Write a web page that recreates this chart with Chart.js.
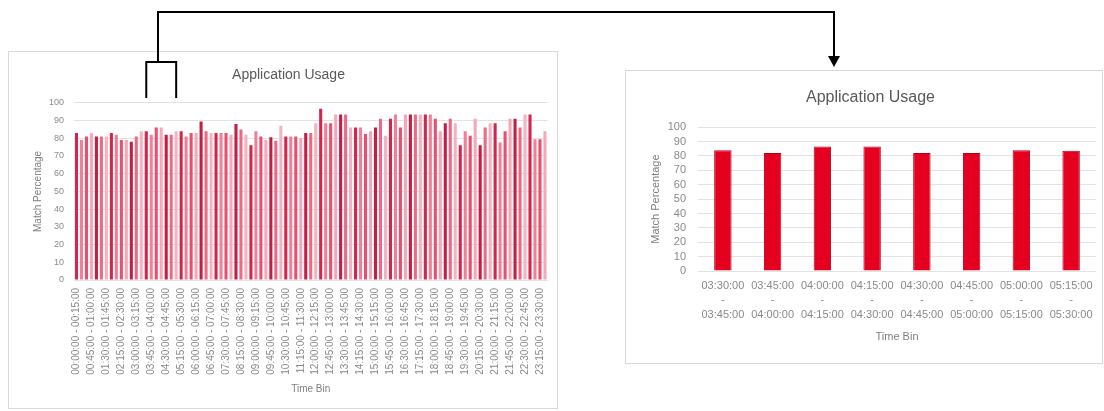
<!DOCTYPE html>
<html lang="en">
<head>
<meta charset="UTF-8">
<title>Application Usage</title>
<script src="https://cdn.jsdelivr.net/npm/chart.js@4.4.0/dist/chart.umd.min.js"></script>
<style>
  body{margin:0;background:#fff;width:1104px;height:411px;overflow:hidden;position:relative;}
  .box{position:absolute;border:1px solid #d9d9d9;background:#fff;}
  #leftBox{left:8px;top:51px;width:548px;height:356px;}
  #rightBox{left:625px;top:70px;width:476px;height:292px;}
  #links{position:absolute;left:0;top:0;pointer-events:none;}
</style>
</head>
<body>
<div class="box" id="leftBox"><canvas id="dayChart" width="548" height="356"></canvas></div>
<div class="box" id="rightBox"><canvas id="zoomChart" width="476" height="292"></canvas></div>
<canvas id="links" width="1104" height="411"></canvas>

<script>
// 15-minute bins for the whole day (95 bins shown in the original)
const binCount = 95;
const dayValues = [
  83,79,81,83,81,81,81,83,82,79,79,78,81,84,84,82,86,86,82,82,
  84,84,81,83,83,89.5,84,83,83,83,83,82,88,85,82,76,84,81,79,80.5,
  78.6,87,81,81,81,80,83,83,88.5,96.7,88.5,88.5,93.4,93.4,93.4,86,86,86,82.4,84,
  86,91,81.4,91,93.4,86,93.4,93.4,93.4,93.4,93.4,93.4,91,84,88.5,91,88.5,76,84,81.4,
  91,76,86,88.5,88.5,77.6,84,91,91,86,93.4,93.4,79.5,79.5,84
];

// zoomed window 03:30 - 05:30
const zoomLabels = [
  ['03:30:00','-','03:45:00'],['03:45:00','-','04:00:00'],['04:00:00','-','04:15:00'],['04:15:00','-','04:30:00'],
  ['04:30:00','-','04:45:00'],['04:45:00','-','05:00:00'],['05:00:00','-','05:15:00'],['05:15:00','-','05:30:00']
];
const zoomValues = [84,82,86.5,86.5,82,82,84,83.7];

const barShades = ['#d3264c','#f08098','#e8506f','#f6a8b8','#c41e44','#ec6a86','#f4b3c0'];

function hhmmss(min){
  const h = String(Math.floor(min/60)).padStart(2,'0');
  const m = String(min%60).padStart(2,'0');
  return h + ':' + m + ':00';
}
const dayLabels = [];
for(let i=0;i<binCount;i++){
  dayLabels.push(hhmmss(i*15) + ' - ' + hhmmss(i*15+15));
}

Chart.defaults.font.family = '"Liberation Sans", Arial, sans-serif';

const dayChart = new Chart(document.getElementById('dayChart'), {
  type:'bar',
  data:{
    labels:dayLabels,
    datasets:[{
      data:dayValues,
      backgroundColor:dayValues.map((v,i)=>barShades[i%barShades.length]),
      barPercentage:0.62,
      categoryPercentage:1
    }]
  },
  options:{
    responsive:false,
    animation:false,
    layout:{padding:{left:19,right:8,bottom:9,top:0}},
    plugins:{
      legend:{display:false},
      tooltip:{enabled:false},
      title:{display:true,text:'Application Usage',color:'#595959',font:{size:14,weight:'normal'},padding:{top:15,bottom:19}}
    },
    scales:{
      x:{
        grid:{display:false},
        border:{display:false},
        ticks:{
          autoSkip:false,maxRotation:90,minRotation:90,padding:0,color:'#8a8a8a',font:{size:10},
          callback:function(v,i){ return i%3===0 ? this.getLabelForValue(v) : ''; }
        },
        title:{display:true,text:'Time Bin',color:'#7f7f7f',font:{size:10}},
        afterFit:function(a){ a.height = 119; }
      },
      y:{
        min:0,max:100,
        ticks:{stepSize:10,autoSkip:false,padding:10,color:'#8a8a8a',font:{size:9}},
        grid:{color:'#e3e3e3',drawTicks:false},
        border:{display:false},
        title:{display:true,text:'Match Percentage',color:'#7f7f7f',font:{size:10}},
        afterFit:function(a){ a.width = 46; }
      }
    }
  }
});

const zoomChart = new Chart(document.getElementById('zoomChart'), {
  type:'bar',
  data:{
    labels:zoomLabels,
    datasets:[{
      data:zoomValues,
      backgroundColor:'#e50020',
      borderColor:'#b5001a',
      borderWidth:1,
      barPercentage:0.35,
      categoryPercentage:1
    }]
  },
  options:{
    responsive:false,
    animation:false,
    layout:{padding:{left:19,right:6,bottom:15,top:0}},
    plugins:{
      legend:{display:false},
      tooltip:{enabled:false},
      title:{display:true,text:'Application Usage',color:'#595959',font:{size:16,weight:'normal'},padding:{top:17,bottom:20}}
    },
    scales:{
      x:{
        grid:{display:false},
        border:{display:false},
        ticks:{autoSkip:false,maxRotation:0,padding:0,color:'#8a8a8a',font:{size:11,lineHeight:1.3}},
        title:{display:true,text:'Time Bin',color:'#7f7f7f',font:{size:11}},
        afterFit:function(a){ a.height = 77; }
      },
      y:{
        min:0,max:100,
        ticks:{stepSize:10,autoSkip:false,padding:12,color:'#8a8a8a',font:{size:11}},
        grid:{color:'#e3e3e3',drawTicks:false},
        border:{display:false},
        title:{display:true,text:'Match Percentage',color:'#7f7f7f',font:{size:11}},
        afterFit:function(a){ a.width = 53; }
      }
    }
  }
});

// connector from the zoomed window in the day chart to the detail chart
const links = document.getElementById('links').getContext('2d');
const xs = dayChart.scales.x;
const bLeft = 9 + xs.getPixelForValue(14);
const bRight = 9 + xs.getPixelForValue(20);
links.strokeStyle = '#000';
links.lineWidth = 2;
links.beginPath();
links.moveTo(bLeft, 98);
links.lineTo(bLeft, 62);
links.lineTo(bRight, 62);
links.lineTo(bRight, 98);
links.moveTo(158, 62);
links.lineTo(158, 12);
links.lineTo(834, 12);
links.lineTo(834, 58);
links.stroke();
links.fillStyle = '#000';
links.beginPath();
links.moveTo(828, 56);
links.lineTo(840, 56);
links.lineTo(834, 67);
links.closePath();
links.fill();
</script>
</body>
</html>
